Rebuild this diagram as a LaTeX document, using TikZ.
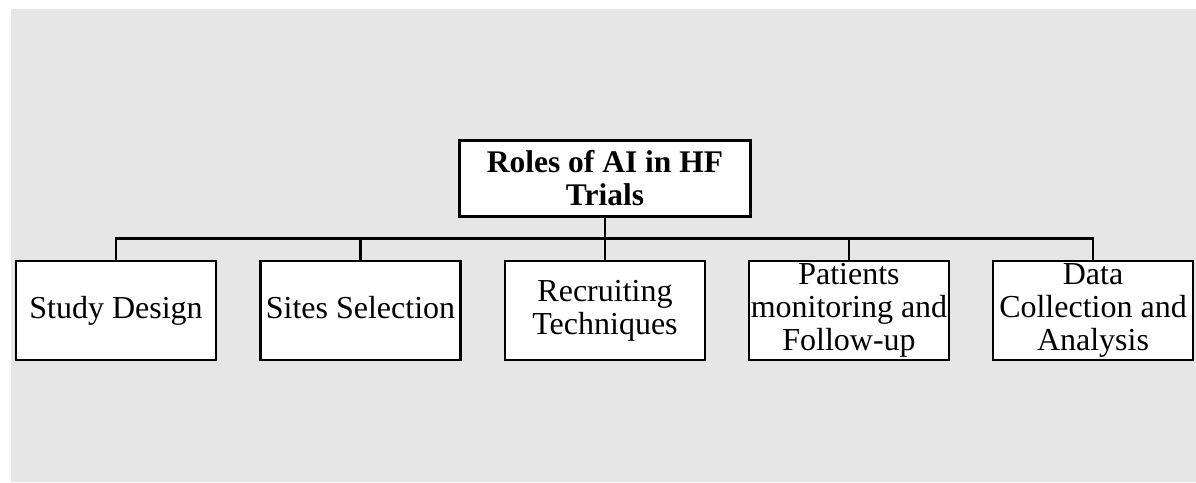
\documentclass[tikz,border=0pt]{standalone}
\usepackage{fontspec}
\setmainfont{Liberation Serif}
\definecolor{bggray}{HTML}{E6E6E6}
\begin{document}
\begin{tikzpicture}[x=1pt,y=-1pt,
  box/.style={draw=black,line width=2.8pt,fill=white,align=center,inner sep=1pt,
    font=\fontsize{32}{33}\selectfont},
  childbox/.style={box,minimum width=200pt,minimum height=99pt},
  topbox/.style={box,minimum width=291pt,minimum height=76pt,
    font=\fontsize{31.5}{33}\selectfont\bfseries},
  conn/.style={line width=2.8pt,line cap=rect}]
\useasboundingbox (0,0) rectangle (1196,482);
\fill[bggray] (11,9) rectangle (1196,482);
\node[topbox] (top) at (605,178.5) {Roles of AI in HF\\Trials};
\node[childbox] (c1) at (116,310.5) {Study Design};
\node[childbox] (c2) at (360.5,310.5) {Sites Selection\vphantom{y}};
\node[childbox] (c3) at (605,310.5) {Recruiting\\Techniques};
\node[childbox] (c4) at (849,310.5) {Patients\\monitoring and\\Follow-up};
\node[childbox] (c5) at (1093,310.5) {Data\\Collection and\\Analysis};
\coordinate (bus) at (605,238.5);
\draw[conn] (top.south) -- (top.south |- bus);
\draw[conn] (c1.north) -- (c1.north |- bus) -- (c5.north |- bus) -- (c5.north);
\draw[conn] (c2.north) -- (c2.north |- bus);
\draw[conn] (c3.north) -- (c3.north |- bus);
\draw[conn] (c4.north) -- (c4.north |- bus);
\end{tikzpicture}
\end{document}
